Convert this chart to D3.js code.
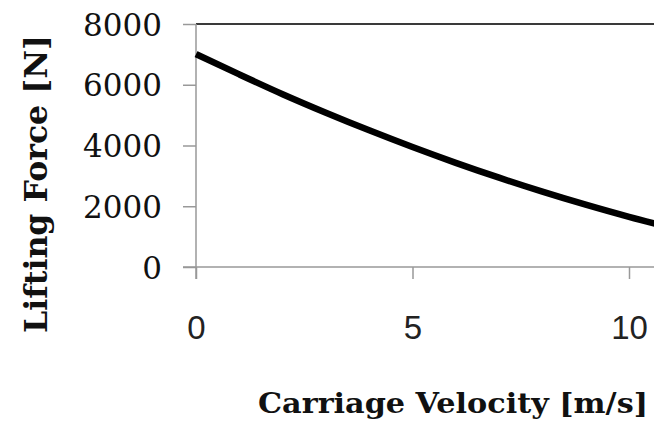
<!DOCTYPE html>
<html>
<head>
<meta charset="utf-8">
<script src="https://cdn.jsdelivr.net/npm/d3@7"></script>
<style>
  body { margin: 0; background: #fff; }
</style>
</head>
<body>
<div id="chart"></div>
<script>
// data
var velocity = [0, 1, 2, 3, 4, 5, 6, 7, 8, 9, 10, 11];
var force = [7010, 6340, 5690, 5080, 4500, 3950, 3430, 2940, 2480, 2050, 1650, 1290];
var yTicks = [0, 2000, 4000, 6000, 8000];
var xTicks = [0, 5, 10];

var W = 654, H = 423;

var svg = d3.select("#chart")
  .append("svg")
    .attr("width", W)
    .attr("height", H);

var x = d3.scaleLinear()
  .domain([0, 10])
  .range([196, 629]);

var y = d3.scaleLinear()
  .domain([0, 8000])
  .range([267, 24]);

// top border
svg.append("line")
  .attr("x1", x(0)).attr("x2", W)
  .attr("y1", y(8000)).attr("y2", y(8000))
  .attr("stroke", "#3a3a3a")
  .attr("stroke-width", 2);

// Y axis
var yAxis = svg.append("g")
  .attr("transform", "translate(" + x(0) + ",0)")
  .call(d3.axisLeft(y).tickValues(yTicks).tickSize(13).tickPadding(21).tickFormat(d3.format("d")));
yAxis.select(".domain").remove();
yAxis.selectAll(".tick line")
  .attr("stroke", "#999")
  .attr("stroke-width", 1.5);
yAxis.selectAll(".tick text")
  .attr("dy", "0.36em")
  .style("font-family", "'DejaVu Serif', serif")
  .style("font-size", "31px")
  .attr("fill", "#111");

// X axis
var xAxis = svg.append("g")
  .attr("transform", "translate(0," + y(0) + ")")
  .call(d3.axisBottom(x).tickValues(xTicks).tickSize(12).tickFormat(d3.format("d")));
xAxis.select(".domain").remove();
xAxis.selectAll(".tick line")
  .attr("stroke", "#999")
  .attr("stroke-width", 1.5);
xAxis.selectAll(".tick text")
  .attr("y", 72)
  .attr("dy", 0)
  .style("font-family", "'Liberation Sans', Arial, sans-serif")
  .style("font-size", "33px")
  .attr("fill", "#222");

// axis lines (crossing past the origin)
svg.append("line")
  .attr("x1", x(0)).attr("x2", x(0))
  .attr("y1", y(8000)).attr("y2", y(0) + 12)
  .attr("stroke", "#999").attr("stroke-width", 1.5);
svg.append("line")
  .attr("x1", x(0) - 13).attr("x2", W)
  .attr("y1", y(0)).attr("y2", y(0))
  .attr("stroke", "#999").attr("stroke-width", 1.5);

// curve
var line = d3.line()
  .x(function(d, i) { return x(velocity[i]); })
  .y(function(d) { return y(d); })
  .curve(d3.curveMonotoneX);

svg.append("path")
  .datum(force)
  .attr("d", line)
  .attr("fill", "none")
  .attr("stroke", "#000")
  .attr("stroke-width", 6.5);

// axis titles
svg.append("text")
  .attr("x", 453)
  .attr("y", 413)
  .attr("text-anchor", "middle")
  .attr("textLength", 390)
  .attr("lengthAdjust", "spacingAndGlyphs")
  .style("font-family", "'DejaVu Serif', serif")
  .style("font-weight", "bold")
  .style("font-size", "28px")
  .attr("fill", "#111")
  .text("Carriage Velocity [m/s]");

svg.append("text")
  .attr("transform", "translate(47,184) rotate(-90)")
  .attr("text-anchor", "middle")
  .attr("textLength", 298)
  .attr("lengthAdjust", "spacingAndGlyphs")
  .style("font-family", "'DejaVu Serif', serif")
  .style("font-weight", "bold")
  .style("font-size", "31px")
  .attr("fill", "#111")
  .text("Lifting Force [N]");
</script>
</body>
</html>
